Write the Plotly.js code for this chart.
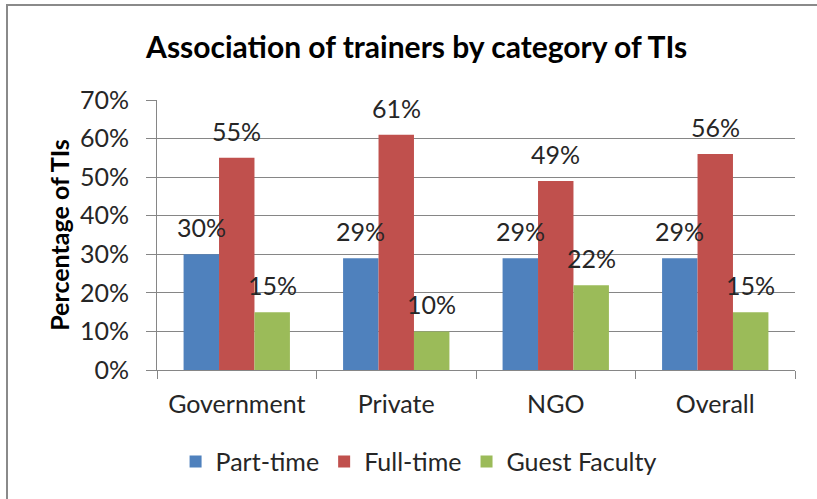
<!DOCTYPE html>
<html>
<head>
<meta charset="utf-8">
<script src="https://cdn.plot.ly/plotly-3.0.1.min.js"></script>
<style>
html,body{margin:0;padding:0;background:#fff;}
#wrap{position:relative;width:817px;height:499px;overflow:hidden;}
#chart{position:absolute;left:0;top:0;width:817px;height:499px;}
#frame{position:absolute;left:6px;top:4px;width:900px;height:600px;border-left:2px solid #8a8a8a;border-top:2px solid #8a8a8a;pointer-events:none;}
</style>
</head>
<body>
<div id="wrap"><div id="chart"></div><div id="frame"></div></div>
<script>
const categories = ["Government", "Private", "NGO", "Overall"];
const partTime = [30, 29, 29, 29];
const fullTime = [55, 61, 49, 56];
const guestFaculty = [15, 10, 22, 15];
const seriesNames = ["Part-time", "Full-time", "Guest Faculty"];
const seriesColors = ["#4F81BD", "#C0504D", "#9BBB59"];
const yTickVals = [0, 10, 20, 30, 40, 50, 60, 70];
const yTickText = ["0%", "10%", "20%", "30%", "40%", "50%", "60%", "70%"];

const FONT = "Lato, 'Open Sans', sans-serif";
const TXT = "#262626";
const series = [partTime, fullTime, guestFaculty];
const bargap = 1/3;
const barW = (1 - bargap) / series.length;

const traces = series.map((vals, j) => ({
  type: "bar",
  name: seriesNames[j],
  x: categories,
  y: vals,
  marker: {color: seriesColors[j]},
  hoverinfo: "skip"
}));

const annotations = [];
series.forEach((vals, j) => {
  vals.forEach((v, i) => {
    annotations.push({
      x: i + (j - 1) * barW,
      y: v,
      xref: "x", yref: "y",
      text: v + "%",
      showarrow: false,
      yanchor: "bottom",
      yshift: 10,
      font: {family: FONT, size: 25, color: TXT}
    });
  });
});

const layout = {
  width: 817, height: 499,
  margin: {l: 157, r: 22, t: 100, b: 129},
  paper_bgcolor: "#fff", plot_bgcolor: "#fff",
  barmode: "group",
  bargap: bargap,
  bargroupgap: 0,
  showlegend: true,
  title: {
    text: "<b>Association of trainers by category of TIs</b>",
    font: {family: FONT, size: 30, color: "#000"},
    x: 0.51, xanchor: "center", y: 0.905, yanchor: "middle"
  },
  xaxis: {
    type: "category",
    tickson: "boundaries",
    ticks: "outside", ticklen: 8, tickcolor: "#868686",
    showline: true, linecolor: "#868686", linewidth: 1,
    showgrid: false,
    tickfont: {family: FONT, size: 25, color: TXT},
    ticklabelstandoff: 12
  },
  yaxis: {
    range: [0, 70],
    tickvals: yTickVals, ticktext: yTickText,
    ticks: "outside", ticklen: 10, tickcolor: "#868686",
    showline: true, linecolor: "#868686", linewidth: 1,
    showgrid: true, gridcolor: "#868686", gridwidth: 1,
    zeroline: false,
    tickfont: {family: FONT, size: 25, color: TXT},
    ticklabelstandoff: 12,
    title: {text: "<b>Percentage of TIs</b>", font: {family: FONT, size: 25, color: "#000"}, standoff: 3}
  },
  legend: {
    orientation: "h",
    x: 0.41, xanchor: "center",
    y: -0.34, yanchor: "middle",
    font: {family: FONT, size: 25, color: TXT},
    itemwidth: 30,
    traceorder: "normal"
  },
  annotations: annotations
};

Plotly.newPlot("chart", traces, layout, {displayModeBar: false, staticPlot: true});
</script>
</body>
</html>
